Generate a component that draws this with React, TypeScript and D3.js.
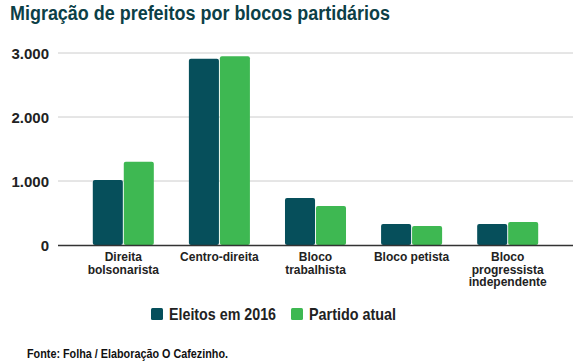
import * as d3 from 'd3';

const categories = [
  ['Direita', 'bolsonarista'],
  ['Centro-direita'],
  ['Bloco', 'trabalhista'],
  ['Bloco petista'],
  ['Bloco', 'progressista', 'independente'],
];
const seriesNames = ['Eleitos em 2016', 'Partido atual'];
const eleitos2016 = [1015, 2910, 735, 330, 330];
const partidoAtual = [1300, 2950, 610, 297, 360];
const yTicks = [0, 1000, 2000, 3000];
const colors = ['#064f5b', '#3eb852'];

const W = 581;
const H = 363;
const FONT = '"Liberation Sans", Arial, sans-serif';

// the source renders title, legend and footer in a narrow face; squeeze to match
const legendPos = [151, 291];
const legendWidths = [107, 87];

export default function App() {
  const x = d3
    .scaleBand<number>()
    .domain(categories.map((_, i) => i))
    .range([75.5, 555.5])
    .paddingInner(0.365)
    .paddingOuter(0.18);
  const sub = d3.scaleBand<number>().domain([0, 1]).range([0, x.bandwidth()]).paddingInner(0.03);
  const y = d3.scaleLinear().domain([0, 3000]).range([245, 53]);
  const fmt = (v: number) => d3.format(',')(v).replace(/,/g, '.');
  const series = [eleitos2016, partidoAtual];

  return (
    <svg width={W} height={H} style={{ position: 'absolute', left: 0, top: 0, background: '#fff' }}>
      <text
        x={10}
        y={19.5}
        fontFamily={FONT}
        fontWeight="bold"
        fontSize={19.5}
        fill="#0c3f47"
        textLength={380}
        lengthAdjust="spacingAndGlyphs"
      >
        Migração de prefeitos por blocos partidários
      </text>

      {yTicks.map((t) => (
        <g key={t}>
          {t > 0 && <line x1={58} x2={573} y1={y(t)} y2={y(t)} stroke="#cccccc" strokeWidth={1} />}
          <text x={49} y={y(t) + 5.5} textAnchor="end" fontFamily={FONT} fontWeight="bold" fontSize={15} fill="#222">
            {fmt(t)}
          </text>
        </g>
      ))}

      {categories.map((_, i) =>
        series.map((s, j) => (
          <rect
            key={`${i}-${j}`}
            x={(x(i) ?? 0) + (sub(j) ?? 0)}
            y={y(s[i])}
            width={sub.bandwidth()}
            height={y(0) - y(s[i])}
            rx={2}
            fill={colors[j]}
          />
        ))
      )}

      <line x1={58} x2={573} y1={245.5} y2={245.5} stroke="#333" strokeWidth={1.5} />

      {categories.map((lines, i) => (
        <text
          key={i}
          x={(x(i) ?? 0) + x.bandwidth() / 2}
          y={261}
          textAnchor="middle"
          fontFamily={FONT}
          fontWeight="bold"
          fontSize={12}
          fill="#222"
        >
          {lines.map((l, k) => (
            <tspan key={k} x={(x(i) ?? 0) + x.bandwidth() / 2} dy={k === 0 ? 0 : 12.5}>
              {l}
            </tspan>
          ))}
        </text>
      ))}

      {seriesNames.map((n, j) => {
        const lx = legendPos[j];
        return (
          <g key={n}>
            <rect x={lx} y={308} width={12} height={12} rx={1.5} fill={colors[j]} />
            <text
              x={lx + 18}
              y={320}
              fontFamily={FONT}
              fontWeight="bold"
              fontSize={17}
              fill="#222"
              textLength={legendWidths[j]}
              lengthAdjust="spacingAndGlyphs"
            >
              {n}
            </text>
          </g>
        );
      })}

      <text
        x={27}
        y={358}
        fontFamily={FONT}
        fontWeight="bold"
        fontSize={12}
        fill="#111"
        textLength={201}
        lengthAdjust="spacingAndGlyphs"
      >
        Fonte: Folha / Elaboração O Cafezinho.
      </text>
    </svg>
  );
}
